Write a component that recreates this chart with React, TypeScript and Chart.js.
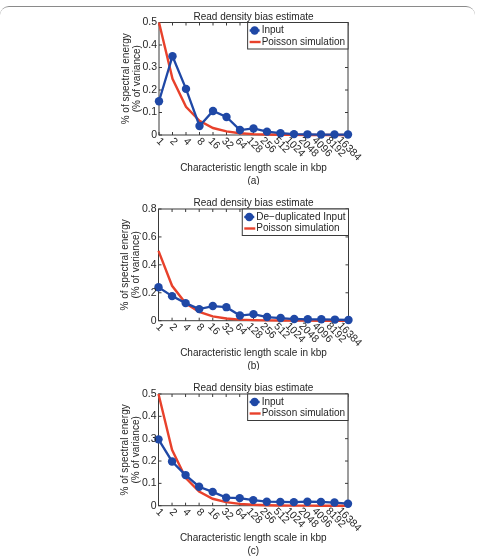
import React, { useEffect, useRef } from "react";
import { Chart, registerables } from "chart.js";

Chart.register(...registerables);

// Characteristic length scales (kbp) along the x axis
const lengthScales = ["1", "2", "4", "8", "16", "32", "64", "128", "256", "512", "1024", "2048", "4096", "8192", "16384"];

// Spectral energy per scale
const inputRaw = [0.15, 0.35, 0.205, 0.04, 0.107, 0.08, 0.022, 0.029, 0.015, 0.008, 0.004, 0.003, 0.002, 0.002, 0.002];
const inputDedup = [0.24, 0.176, 0.126, 0.083, 0.105, 0.097, 0.037, 0.047, 0.026, 0.019, 0.012, 0.01, 0.01, 0.008, 0.005];
const inputFiltered = [0.297, 0.198, 0.137, 0.085, 0.062, 0.036, 0.034, 0.025, 0.018, 0.017, 0.016, 0.018, 0.017, 0.014, 0.009];
const poissonSim = [0.5, 0.25, 0.125, 0.063, 0.031, 0.016, 0.008, 0.004, 0.002, 0.001, 0.0005, 0.0002, 0.0001, 0.0001, 0];

// Y tick labels per panel
const yTicksTenths = ["0", "0.1", "0.2", "0.3", "0.4", "0.5"];
const yTicksFifths = ["0", "0.2", "0.4", "0.6", "0.8"];

const titleText = "Read density bias estimate";
const xTitleText = "Characteristic length scale in kbp";
const yTitleLines = ["% of spectral energy", "(% of variance)"];
const simLabel = "Poisson simulation";

const FONT = '"Liberation Sans", Arial, Helvetica, sans-serif';
const TEXT = "#262626";
const AXIS = "#3a3a3a";
const BLUE = "#1f48a6";
const RED = "#e8412b";

type PanelProps = {
  top: number;
  height: number;
  pad: { left: number; right: number; top: number; bottom: number };
  yTicks: string[];
  input: number[];
  inputLabel: string;
  caption: string;
};

function axesPlugin(p: PanelProps) {
  return {
    id: "boxedAxes",
    beforeDatasetsDraw(chart: any) {
      const { ctx, chartArea: a, scales } = chart;
      const xs = scales.x;
      const ys = scales.y;
      ctx.save();
      ctx.strokeStyle = AXIS;
      ctx.lineWidth = 1;
      ctx.strokeRect(a.left, a.top, a.right - a.left, a.bottom - a.top);
      ctx.beginPath();
      lengthScales.forEach((_, i) => {
        const x = xs.getPixelForValue(i);
        ctx.moveTo(x, a.bottom);
        ctx.lineTo(x, a.bottom - 3);
        ctx.moveTo(x, a.top);
        ctx.lineTo(x, a.top + 3);
      });
      p.yTicks.forEach((t) => {
        const y = ys.getPixelForValue(Number(t));
        ctx.moveTo(a.left, y);
        ctx.lineTo(a.left + 3, y);
        ctx.moveTo(a.right, y);
        ctx.lineTo(a.right - 3, y);
      });
      ctx.stroke();
      ctx.restore();
    },
    afterDraw(chart: any) {
      const { ctx, chartArea: a, scales } = chart;
      const xs = scales.x;
      const ys = scales.y;
      const cx = (a.left + a.right) / 2;
      const cy = (a.top + a.bottom) / 2;
      ctx.save();
      ctx.fillStyle = TEXT;

      // y tick labels
      ctx.font = `10.5px ${FONT}`;
      ctx.textAlign = "right";
      ctx.textBaseline = "middle";
      p.yTicks.forEach((t) => {
        ctx.fillText(t, a.left - 2, ys.getPixelForValue(Number(t)));
      });

      // x tick labels, slanted
      ctx.textAlign = "center";
      lengthScales.forEach((lab, i) => {
        const x = xs.getPixelForValue(i);
        const w = ctx.measureText(lab).width;
        ctx.save();
        ctx.translate(x + 1, a.bottom + 5 + w * 0.3);
        ctx.rotate(Math.PI / 4);
        ctx.fillText(lab, 0, 0);
        ctx.restore();
      });

      ctx.font = `10px ${FONT}`;
      // title
      ctx.textBaseline = "alphabetic";
      ctx.fillText(titleText, cx, a.top - 3);

      // x axis title and caption
      ctx.textBaseline = "middle";
      ctx.fillText(xTitleText, cx, a.bottom + 33);
      ctx.fillText(p.caption, cx, a.bottom + 46);

      // y axis title (two lines)
      ctx.save();
      ctx.translate(a.left - 33, cy);
      ctx.rotate(-Math.PI / 2);
      ctx.fillText(yTitleLines[0], 0, 0);
      ctx.fillText(yTitleLines[1], 0, 11);
      ctx.restore();

      // legend
      const labels = [p.inputLabel, simLabel];
      const tw = Math.max(...labels.map((l) => ctx.measureText(l).width));
      const bw = 15 + tw + 2;
      const bx = a.right - bw;
      const by = a.top;
      const bh = 26.5;
      ctx.fillStyle = "#ffffff";
      ctx.fillRect(bx, by, bw, bh);
      ctx.strokeStyle = AXIS;
      ctx.lineWidth = 1;
      ctx.strokeRect(bx, by, bw, bh);
      const rows = [by + 8, by + 19.5];
      // input entry
      ctx.strokeStyle = BLUE;
      ctx.lineWidth = 2.3;
      ctx.beginPath();
      ctx.moveTo(bx + 2, rows[0]);
      ctx.lineTo(bx + 12, rows[0]);
      ctx.stroke();
      ctx.fillStyle = BLUE;
      ctx.beginPath();
      ctx.arc(bx + 7, rows[0], 4.2, 0, Math.PI * 2);
      ctx.fill();
      // simulation entry
      ctx.strokeStyle = RED;
      ctx.lineWidth = 2.4;
      ctx.beginPath();
      ctx.moveTo(bx + 2, rows[1]);
      ctx.lineTo(bx + 13, rows[1]);
      ctx.stroke();
      ctx.fillStyle = TEXT;
      ctx.textAlign = "left";
      ctx.fillText(labels[0], bx + 14, rows[0]);
      ctx.fillText(labels[1], bx + 14, rows[1]);
      ctx.restore();
    },
  };
}

function Panel(p: PanelProps) {
  const ref = useRef<HTMLCanvasElement | null>(null);
  useEffect(() => {
    if (!ref.current) return;
    const yMax = Number(p.yTicks[p.yTicks.length - 1]);
    const chart = new Chart(ref.current, {
      type: "line",
      data: {
        labels: lengthScales,
        datasets: [
          {
            label: simLabel,
            data: poissonSim,
            borderColor: RED,
            borderWidth: 2.4,
            pointRadius: 0,
            tension: 0,
            clip: false as any,
            order: 2,
          },
          {
            label: p.inputLabel,
            data: p.input,
            borderColor: BLUE,
            backgroundColor: BLUE,
            borderWidth: 2.3,
            pointRadius: 4.2,
            pointBorderWidth: 0,
            pointBackgroundColor: BLUE,
            tension: 0,
            clip: false as any,
            order: 1,
          },
        ],
      },
      options: {
        animation: false,
        responsive: false,
        devicePixelRatio: 1,
        layout: { padding: p.pad },
        plugins: { legend: { display: false }, title: { display: false }, tooltip: { enabled: false } },
        scales: {
          x: { type: "category", offset: false, display: false },
          y: { min: 0, max: yMax, display: false },
        },
      },
      plugins: [axesPlugin(p)],
    });
    return () => chart.destroy();
  }, []);
  return (
    <canvas
      ref={ref}
      width={477}
      height={p.height}
      style={{ position: "absolute", left: 0, top: p.top, width: 477, height: p.height, display: "block" }}
    />
  );
}

export default function App() {
  return (
    <div style={{ position: "absolute", left: 0, top: 0, width: 477, height: 556, background: "#ffffff", overflow: "hidden" }}>
      <div
        style={{
          position: "absolute",
          left: 0,
          top: 6,
          width: 475,
          height: 30,
          borderTop: "1.5px solid #8a8a8a",
          borderRadius: "9px 9px 0 0",
          boxSizing: "border-box",
        }}
      />
      <Panel
        top={0}
        height={185}
        pad={{ left: 159, right: 129, top: 22.5, bottom: 50 }}
        yTicks={yTicksTenths}
        input={inputRaw}
        inputLabel="Input"
        caption="(a)"
      />
      <Panel
        top={185}
        height={185}
        pad={{ left: 158.5, right: 128.5, top: 24, bottom: 49.3 }}
        yTicks={yTicksFifths}
        input={inputDedup}
        inputLabel={"De\u2212duplicated Input"}
        caption="(b)"
      />
      <Panel
        top={370}
        height={186}
        pad={{ left: 158.5, right: 129, top: 24, bottom: 50.3 }}
        yTicks={yTicksTenths}
        input={inputFiltered}
        inputLabel="Input"
        caption="(c)"
      />
    </div>
  );
}
